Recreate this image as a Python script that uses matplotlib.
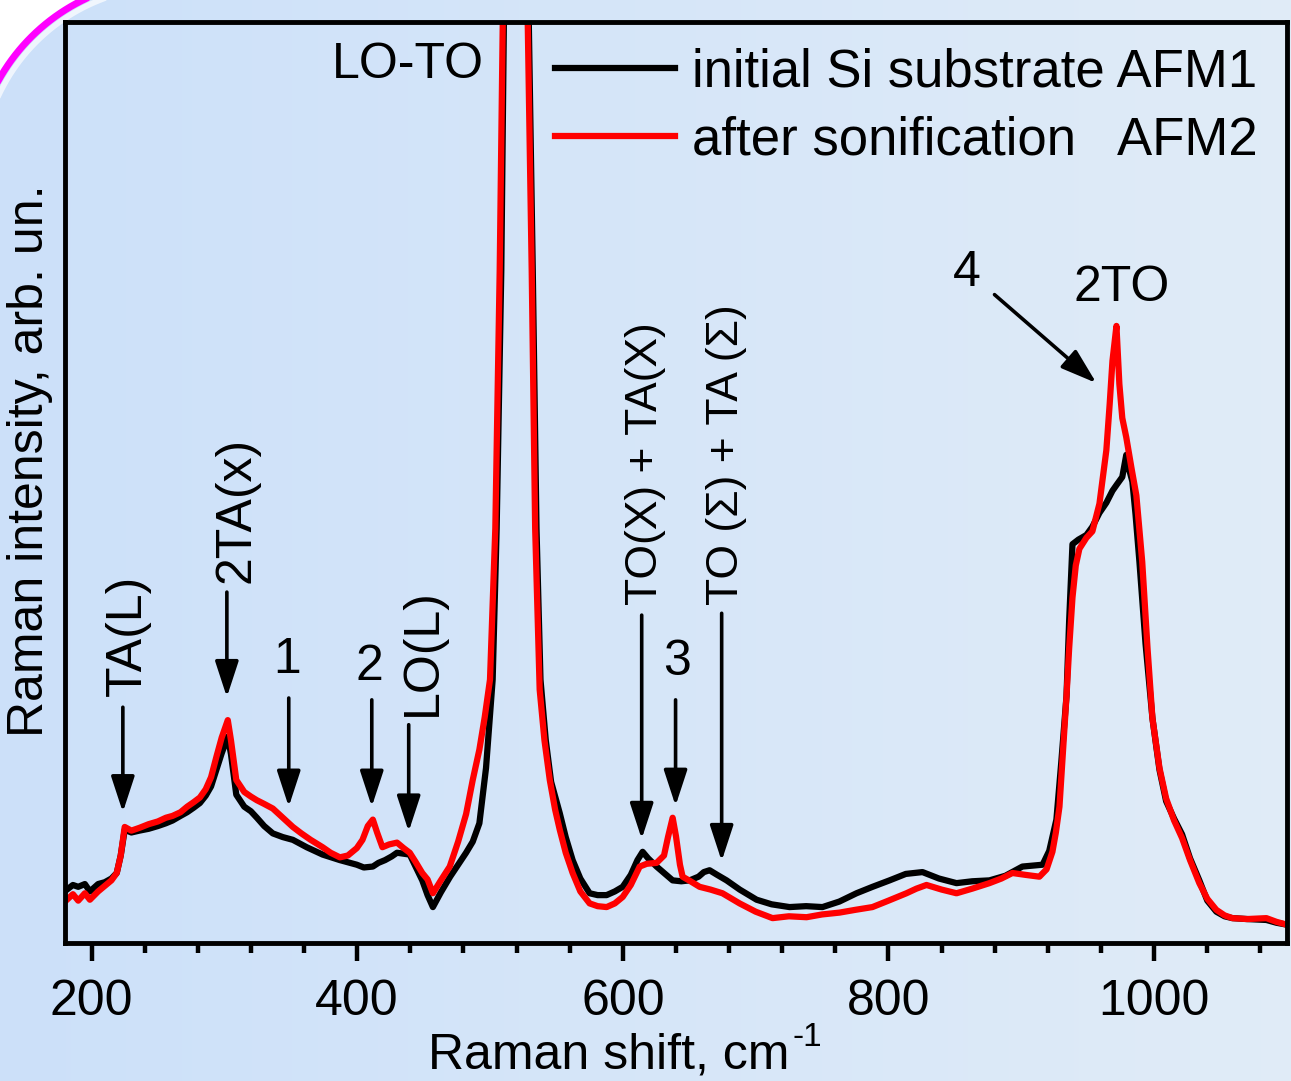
import numpy as np
import matplotlib
matplotlib.use("Agg")
import matplotlib.pyplot as plt
from matplotlib.patches import ArrowStyle, Polygon
from matplotlib.ticker import MultipleLocator

plt.rcParams['font.family'] = ['Liberation Sans', 'DejaVu Sans']

# spectra (Raman shift in cm-1, intensity in arb. units)
x_initial = [181.5, 186, 190, 195, 198.8, 205, 210, 215, 219, 222, 225, 230, 236, 243, 250,
             256, 261, 267, 272, 277, 281.6, 286, 290, 294, 298, 302.6, 305, 309, 315, 320,
             324.5, 330, 336.5, 344, 351.6, 362, 374, 387, 399.7, 405, 411.8, 416, 421, 426,
             430, 435, 439.6, 444, 449, 453, 457, 463, 470, 476, 482, 487, 492, 497, 502,
             505, 508.5, 510.5, 513, 516, 520, 524, 527, 529.2, 532.2, 535, 538, 542, 546,
             552.5, 557, 562.2, 568, 575, 581, 587.8, 594, 599.9, 606, 611, 614.9, 619,
             625.4, 631, 637.5, 644, 650.3, 657, 661, 665.3, 671, 678.1, 688, 700.7, 712,
             725.5, 738, 750.3, 763, 775.9, 788, 800.8, 813, 825.6, 838, 851.2, 863, 876,
             888, 900.8, 908, 916, 921, 926.4, 930, 934, 936, 938.5, 943, 949, 953.5,
             958.8, 964, 968.6, 972, 976, 979, 981, 983.6, 986, 988.9, 993.5, 998.7, 1004,
             1009, 1015, 1021, 1027, 1034, 1040, 1046.8, 1053, 1058.9, 1070, 1084.5, 1092,
             1099.5]
y_initial = [5.8, 6.3, 6.1, 6.4, 5.6, 6.4, 6.6, 7.0, 7.6, 9.5, 12.3, 12.0, 12.2, 12.4, 12.7,
             13.0, 13.3, 13.8, 14.2, 14.7, 15.2, 16.0, 17.0, 18.8, 20.6, 22.4, 20.5, 16.1,
             14.8, 14.3, 13.6, 12.7, 11.9, 11.5, 11.2, 10.4, 9.6, 9.0, 8.5, 8.2, 8.3, 8.7,
             9.0, 9.4, 9.8, 9.7, 9.6, 8.3, 6.8, 5.2, 3.9, 5.5, 7.2, 8.5, 9.8, 11.0, 13.0,
             19.0, 28.6, 45, 73, 100, 150, 250, 400, 250, 150, 100, 73, 45, 28.6, 22.0,
             17.5, 14.1, 11.5, 9.0, 7.0, 5.4, 5.2, 5.2, 5.6, 6.1, 7.4, 9.0, 9.9, 9.2, 8.3,
             7.6, 6.8, 6.7, 6.8, 7.2, 7.7, 7.9, 7.4, 6.8, 5.8, 4.7, 4.2, 3.9, 4.0, 3.9, 4.5,
             5.4, 6.1, 6.8, 7.5, 7.7, 7.0, 6.5, 6.7, 6.8, 7.3, 8.3, 8.4, 8.5, 10.0, 13.4,
             19.5, 26.8, 35.0, 43.3, 43.8, 44.3, 45.2, 46.7, 47.8, 49.1, 49.8, 50.6, 53.0,
             51.5, 50.1, 46.5, 41.4, 32.5, 24.4, 18.8, 15.4, 13.5, 11.8, 9.2, 6.8, 4.6, 3.4,
             2.9, 2.7, 2.6, 2.5, 2.2, 2.0]

x_after = [181.5, 186, 190, 195, 198.8, 205, 210, 215, 219, 222, 225, 230, 236, 243, 250,
           256, 261, 267, 272, 277, 281.6, 286, 290, 294, 298, 302.6, 305, 309, 315, 320,
           324.5, 330, 336.5, 344, 351.6, 358, 365, 374, 380, 387, 393, 399.7, 404, 408,
           411.8, 415, 419, 424, 430, 435, 439.6, 444, 449, 453, 457, 463, 469.7, 476, 482,
           487, 492, 496, 500, 504, 507.3, 509.6, 512, 515, 519, 523, 526, 528.4, 531.4,
           534, 537.4, 541, 545, 549, 552.5, 557, 562.2, 568, 575, 581, 587.8, 594, 599.9,
           606, 612.7, 618, 625.4, 631, 634, 637.5, 640, 643, 645, 651, 657.8, 666, 675,
           682, 687.9, 700, 712.7, 725, 738.3, 750, 763.1, 775, 787.9, 800, 813.5, 821,
           828.6, 840, 851.2, 863, 876, 885, 893.3, 903, 913.6, 919, 923.4, 926, 928.7,
           931, 934, 936, 938.5, 941, 943.7, 949, 953.5, 958.8, 964, 966.5, 968.6, 971.6,
           973.8, 976, 979, 983, 986.6, 991, 995, 998.7, 1004, 1009, 1015, 1021, 1027,
           1034, 1040, 1046.8, 1053, 1058.9, 1070, 1084.5, 1092, 1099.5]
y_after = [4.7, 5.3, 4.6, 5.4, 4.7, 5.6, 6.2, 6.8, 7.6, 9.5, 12.6, 12.2, 12.5, 12.9, 13.2,
           13.6, 13.8, 14.2, 14.8, 15.3, 15.8, 16.7, 18.0, 20.2, 22.3, 24.2, 22.0, 17.7,
           16.4, 15.9, 15.5, 15.1, 14.6, 13.6, 12.6, 11.9, 11.2, 10.4, 9.8, 9.3, 9.5, 10.3,
           11.2, 12.7, 13.4, 12.0, 10.4, 10.7, 10.9, 10.3, 9.8, 8.8, 7.6, 6.9, 5.4, 6.8,
           8.3, 11.0, 14.0, 17.7, 21.0, 24.5, 28.6, 45, 73, 100, 150, 250, 400, 250, 150,
           100, 73, 45, 27.5, 22.0, 17.7, 14.5, 12.3, 9.8, 7.6, 5.6, 4.3, 4.0, 3.9, 4.3,
           5.0, 6.3, 8.3, 8.6, 8.7, 9.5, 11.5, 13.6, 11.6, 8.5, 7.2, 6.7, 6.1, 5.8, 5.4,
           4.8, 4.3, 3.4, 2.7, 2.9, 2.8, 3.1, 3.3, 3.6, 3.9, 4.6, 5.4, 5.9, 6.3, 5.8, 5.4,
           5.9, 6.5, 7.0, 7.6, 7.4, 7.2, 8.0, 9.9, 12.0, 14.8, 20.0, 26.8, 32.0, 37.5,
           41.0, 42.8, 44.0, 44.7, 47.7, 53.5, 58.5, 63.2, 67.0, 60.7, 57.0, 54.9, 51.5,
           48.6, 41.4, 32.0, 24.4, 19.0, 15.7, 13.3, 11.4, 9.0, 6.5, 4.8, 3.6, 3.0, 2.7,
           2.6, 2.7, 2.3, 2.0]

labels = ["initial Si substrate AFM1", "after sonification   AFM2"]

# vertical arrows: (x, tail, head) and their labels
arrow_x = [223.6, 301.9, 348.5, 411.0, 438.8, 614.2, 639.7, 674.4]
arrow_tail = [25.6, 38.1, 26.6, 26.4, 23.7, 35.6, 26.4, 35.8]
arrow_head = [14.2, 26.7, 14.8, 14.8, 12.1, 11.3, 14.9, 8.9]

peak_names = ["TA(L)", "2TA(x)", "1", "2", "LO(L)", "TO(X) + TA(X)", "3",
              "TO (\u03a3) + TA (\u03a3)", "LO-TO", "4", "2TO"]
name_x = [227.4, 309.4, 347.0, 409.5, 449.4, 617.2, 640.5, 678.1, 438.1, 858.7, 975.3]
name_y = [33.4, 47.0, 30.7, 30.0, 31.6, 52.1, 30.5, 53.0, 95.3, 72.7, 71.1]
name_rot = [90, 90, 0, 0, 90, 90, 0, 90, 0, 0, 0]
name_size = [36, 36, 36, 36, 36, 32, 36, 32, 36, 36, 36]


fig = plt.figure(figsize=(12.91, 10.81), dpi=100)

# slide-like background: pale blue gradient with a magenta rounded corner
bg = fig.add_axes([0, 0, 1, 1], zorder=0)
bg.axis('off')
left_col = np.array([0.80, 0.88, 0.98])
right_col = np.array([0.88, 0.925, 0.97])
t = np.linspace(0, 1, 256)[None, :, None]
grad = left_col * (1 - t) + right_col * t
bg.imshow(grad, extent=(0, 1291, 1081, 0), aspect='auto')
cx, cy, r = 169, 175, 195
th = np.linspace(np.pi, 1.5 * np.pi, 200)
arc_x = cx + r * np.cos(th)
arc_y = cy + r * np.sin(th)
corner = np.column_stack([np.r_[arc_x, -30, -30], np.r_[arc_y, -30, cy]])
bg.add_patch(Polygon(corner, closed=True, color='white', lw=0))
bg.plot(cx + (r - 7) * np.cos(th), cy + (r - 7) * np.sin(th), color='white', lw=4, alpha=0.7)
bg.plot(arc_x, arc_y, color='#ff00ff', lw=5)
bg.set_xlim(0, 1291)
bg.set_ylim(1081, 0)

ax = fig.add_axes([0.0503, 0.12766, 0.9466, 0.85199], zorder=1)
ax.patch.set_alpha(0)

l1, = ax.plot(x_initial, y_initial, color='black', lw=4.5, solid_joinstyle='round')
l2, = ax.plot(x_after, y_after, color='#ff0000', lw=4.5, solid_joinstyle='round')

ax.set_xlim(180, 1100)
ax.set_ylim(0, 100)
ax.set_yticks([])
ax.xaxis.set_major_locator(MultipleLocator(200))
ax.xaxis.set_minor_locator(MultipleLocator(40))
ax.tick_params(axis='x', which='major', direction='out', length=13, width=3.2,
               labelsize=36, pad=13)
ax.tick_params(axis='x', which='minor', direction='out', length=7, width=3.2)
for s in ax.spines.values():
    s.set_linewidth(3.5)

ax.set_xlabel('Raman shift, cm', fontsize=36)
ax.xaxis.set_label_coords(0.445, -0.097)
ax.text(0.6075, -0.103, '-1', fontsize=24, ha='center', va='center',
        transform=ax.transAxes)
ax.text(-0.0286, 0.524, 'Raman intensity, arb. un.', rotation=90, fontsize=36,
        ha='center', va='center', transform=ax.transAxes)

head = ArrowStyle('-|>', head_length=1.1, head_width=0.36)
for xa, yt, yh in zip(arrow_x, arrow_tail, arrow_head):
    ax.annotate('', xy=(xa, yh), xytext=(xa, yt),
                arrowprops=dict(arrowstyle=head, mutation_scale=20, lw=2.6,
                                color='black', shrinkA=0, shrinkB=0))
# slanted arrow to the 2TO peak
ax.annotate('', xy=(956.5, 60.8), xytext=(879.8, 70.4),
            arrowprops=dict(arrowstyle=head, mutation_scale=20, lw=2.6,
                            color='black', shrinkA=0, shrinkB=0))

for s, xn, yn, rot, fs in zip(peak_names, name_x, name_y, name_rot, name_size):
    ax.text(xn, yn, s, rotation=rot, fontsize=fs, ha='center', va='center')

ax.legend([l1, l2], labels, loc='upper left', bbox_to_anchor=(0.401, 0.972),
          frameon=False, fontsize=38, handlelength=2.27, handletextpad=0.32,
          labelspacing=0.34, borderpad=0, borderaxespad=0)

fig.savefig('out.png', dpi=100)
